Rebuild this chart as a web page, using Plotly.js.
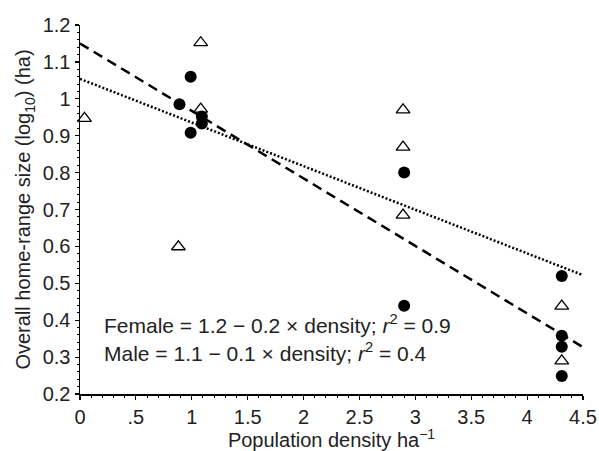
<!DOCTYPE html>
<html>
<head>
<meta charset="utf-8">
<script src="https://cdn.plot.ly/plotly-3.0.1.min.js"></script>
<style>html,body{margin:0;padding:0;background:#fff;}#chart{width:599px;height:451px;}</style>
</head>
<body>
<div id="chart"></div>
<script>
// Data
const femaleDensity = [0.89, 0.99, 0.99, 1.09, 1.09, 2.90, 2.90, 4.31, 4.31, 4.31, 4.31];
const femaleSize    = [0.985, 1.06, 0.908, 0.952, 0.933, 0.80, 0.439, 0.52, 0.358, 0.328, 0.249];
const maleDensity   = [0.04, 0.88, 1.08, 1.08, 2.89, 2.89, 2.89, 4.31, 4.31];
const maleSize      = [0.947, 0.599, 1.152, 0.972, 0.970, 0.869, 0.685, 0.438, 0.29];
const femaleFitX = [0, 4.5];
const femaleFitY = [1.15, 0.327];
const maleFitX = [0, 4.5];
const maleFitY = [1.054, 0.522];
const xTickVals = [0, 0.5, 1, 1.5, 2, 2.5, 3, 3.5, 4, 4.5];
const xTickText = ["0", ".5", "1", "1.5", "2", "2.5", "3", "3.5", "4", "4.5"];
const yTickVals = [0.2, 0.3, 0.4, 0.5, 0.6, 0.7, 0.8, 0.9, 1, 1.1, 1.2];
const yTickText = ["0.2", "0.3", "0.4", "0.5", "0.6", "0.7", "0.8", "0.9", "1", "1.1", "1.2"];
const eqFemale = "Female = 1.2 \u2212 0.2 \u00d7 density; <i>r</i><sup>2</sup> = 0.9";
const eqMale = "Male = 1.1 \u2212 0.1 \u00d7 density; <i>r</i><sup>2</sup> = 0.4";

const font = "Liberation Sans, Arial, Helvetica, sans-serif";
const txt = "#222";

const traces = [
  {x: femaleFitX, y: femaleFitY, mode: "lines", line: {color: "#000", width: 2.5, dash: "10px,6px"}, hoverinfo: "skip"},
  {x: maleFitX, y: maleFitY, mode: "lines", line: {color: "#000", width: 2.5, dash: "2px,2px"}, hoverinfo: "skip"},
  {x: femaleDensity, y: femaleSize, mode: "markers", cliponaxis: false,
   marker: {symbol: "circle", size: 12, color: "#000", line: {width: 0}}},
  {x: maleDensity, y: maleSize, mode: "markers", cliponaxis: false,
   marker: {symbol: "triangle-up-open", size: 12, color: "#000", line: {width: 1.3, color: "#000"}}}
];

const layout = {
  width: 599, height: 451,
  margin: {l: 80, r: 16, t: 25, b: 57},
  paper_bgcolor: "#fff", plot_bgcolor: "#fff",
  showlegend: false,
  font: {family: font, color: txt, size: 20},
  xaxis: {
    range: [0, 4.5], showgrid: false, zeroline: false,
    showline: true, linecolor: "#000", linewidth: 1.5,
    tickmode: "array", tickvals: xTickVals, ticktext: xTickText,
    ticks: "outside", ticklen: 4, tickcolor: "#000", tickwidth: 1.2,
    tickfont: {size: 20, color: txt},
    minor: {dtick: 0.1, ticks: "outside", ticklen: 2, tickcolor: "#000", tickwidth: 1},
    title: {text: "Population density ha<sup>\u22121</sup>", font: {size: 20, color: txt}, standoff: 4}
  },
  yaxis: {
    range: [0.2, 1.2], showgrid: false, zeroline: false,
    showline: true, linecolor: "#000", linewidth: 1.5,
    tickmode: "array", tickvals: yTickVals, ticktext: yTickText,
    ticks: "outside", ticklen: 4, tickcolor: "#000", tickwidth: 1.2,
    tickfont: {size: 20, color: txt},
    minor: {dtick: 0.02, ticks: "outside", ticklen: 2, tickcolor: "#000", tickwidth: 1},
    title: {text: "Overall home-range size (log<sub>10</sub>) (ha)", font: {size: 20, color: txt}, standoff: 6}
  },
  annotations: [
    {xref: "paper", yref: "y", x: 0.044, y: 0.39, xanchor: "left", yanchor: "middle", showarrow: false,
     text: eqFemale, font: {size: 21, color: txt}},
    {xref: "paper", yref: "y", x: 0.044, y: 0.314, xanchor: "left", yanchor: "middle", showarrow: false,
     text: eqMale, font: {size: 21, color: txt}}
  ]
};

Plotly.newPlot("chart", traces, layout, {displayModeBar: false, staticPlot: true});
</script>
</body>
</html>
